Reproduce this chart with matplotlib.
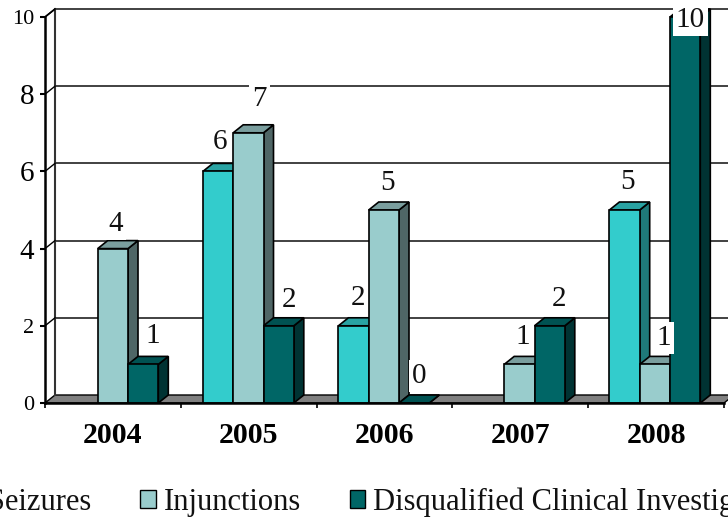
import matplotlib
matplotlib.use("Agg")
import matplotlib.pyplot as plt
from matplotlib.patches import Polygon, Patch

plt.rcParams['font.family'] = ['Liberation Serif', 'DejaVu Serif']

years = ["2004", "2005", "2006", "2007", "2008"]
seizures = [0, 6, 2, 0, 5]
injunctions = [4, 7, 5, 1, 1]
disqualified = [1, 2, 0, 2, 10]
yticks = [0, 2, 4, 6, 8, 10]
names = ["Seizures", "Injunctions", "Disqualified Clinical Investigators"]

# front, top, side
col_s = ["#33CCCC", "#29A3A3", "#1F7A7A"]
col_i = ["#99CCCC", "#7A9E9E", "#4F6666"]
col_d = ["#006666", "#005252", "#003333"]

# label offsets in pixels from the front top centre of each bar
off_s = [None, (2, 29), (4, 28), None, (3, 28)]
off_i = [(3, 25), (11, 34), (4, 27), (3, 27), (9, 26)]
off_d = [(10, 28), (10, 26), (5, 27), (9, 27), (5, -3)]

W, H = 728, 519
fig = plt.figure(figsize=(W/100, H/100), dpi=100)
ax = fig.add_axes([45/W, 1-403/H, 679/W, 386/H])
ax.set_xlim(0, 5)
ax.set_ylim(0, 10)

dx = 10/135.8       # depth of the 3d look
dy = 8/38.6
bw = 30.3/135.8
start = 22.4/135.8
step = 135.5/135.8

# wall, floor and grid
ax.add_patch(Polygon([(0, 0), (dx, dy), (5+dx, dy), (5, 0)], fc="#808080", ec="k", lw=1, clip_on=False, zorder=1))
ax.plot([dx, dx], [dy, 10+dy], color="#333333", lw=1.5, clip_on=False, zorder=1)
ax.plot([0, dx], [10, 10+dy], color="k", lw=1.2, clip_on=False, zorder=1)
for v in yticks[1:]:
    ax.plot([dx, 5+dx], [v+dy, v+dy], color="#333333", lw=1.3, clip_on=False, zorder=1)
    ax.plot([0, dx], [v, v+dy], color="k", lw=1, clip_on=False, zorder=1)

z = 2
for i in range(len(years)):
    for j, (vals, cols) in enumerate([(seizures, col_s), (injunctions, col_i), (disqualified, col_d)]):
        v = vals[i]
        x0 = i*step + start + j*bw
        x1 = x0 + bw
        if v == 0 and j == 0:
            continue
        ax.add_patch(Polygon([(x1, 0), (x1+dx, dy), (x1+dx, v+dy), (x1, v)], fc=cols[2], ec="k", lw=1.2, clip_on=False, zorder=z))
        ax.add_patch(Polygon([(x0, v), (x0+dx, v+dy), (x1+dx, v+dy), (x1, v)], fc=cols[1], ec="k", lw=1.2, clip_on=False, zorder=z))
        ax.bar(x0, v, bw, align="edge", color=cols[0], edgecolor="k", lw=1.2, clip_on=False, zorder=z+0.5)
        z += 1

# value labels with white boxes
for j, (vals, offs) in enumerate([(seizures, off_s), (injunctions, off_i), (disqualified, off_d)]):
    for i, v in enumerate(vals):
        if offs[i] is None:
            continue
        xc = i*step + start + (j+0.5)*bw
        ax.annotate(str(v), (xc, v), xytext=offs[i], textcoords="offset pixels", ha="center", va="center",
                    fontsize=21, color="#111111", annotation_clip=False, zorder=100,
                    bbox=dict(fc="white", ec="none", pad=2))

for s in ["top", "right"]:
    ax.spines[s].set_visible(False)
ax.spines["left"].set_linewidth(1.8)
ax.spines["bottom"].set_linewidth(1.8)
ax.spines["left"].set_zorder(90)
ax.spines["bottom"].set_zorder(90)

ax.set_xticks(range(6))
ax.set_xticklabels([])
ax.set_xticks([i+0.5 for i in range(5)], years, minor=True)
ax.tick_params(axis="x", which="major", length=3.6, width=1.2)
ax.tick_params(axis="x", which="minor", length=0, pad=14, labelsize=21.5)
for t in ax.get_xticklabels(minor=True):
    t.set_fontweight("bold")

ax.set_yticks(yticks)
ax.tick_params(axis="y", length=3.6, width=1.5, pad=4)
for t, v in zip(ax.get_yticklabels(), yticks):
    t.set_fontsize(21 if v in (4, 6, 8) else 16)

handles = [Patch(fc=col_s[0], ec="k"), Patch(fc=col_i[0], ec="k"), Patch(fc=col_d[0], ec="k")]
fig.legend(handles, names, loc="center left", bbox_to_anchor=(-35/W, 1-502/H), ncol=3, frameon=False,
           fontsize=22, borderpad=0, borderaxespad=0, handlelength=0.5, handleheight=0.5,
           handletextpad=0.26, columnspacing=1.6, labelcolor="#111111")

fig.savefig("out.png", dpi=100)
